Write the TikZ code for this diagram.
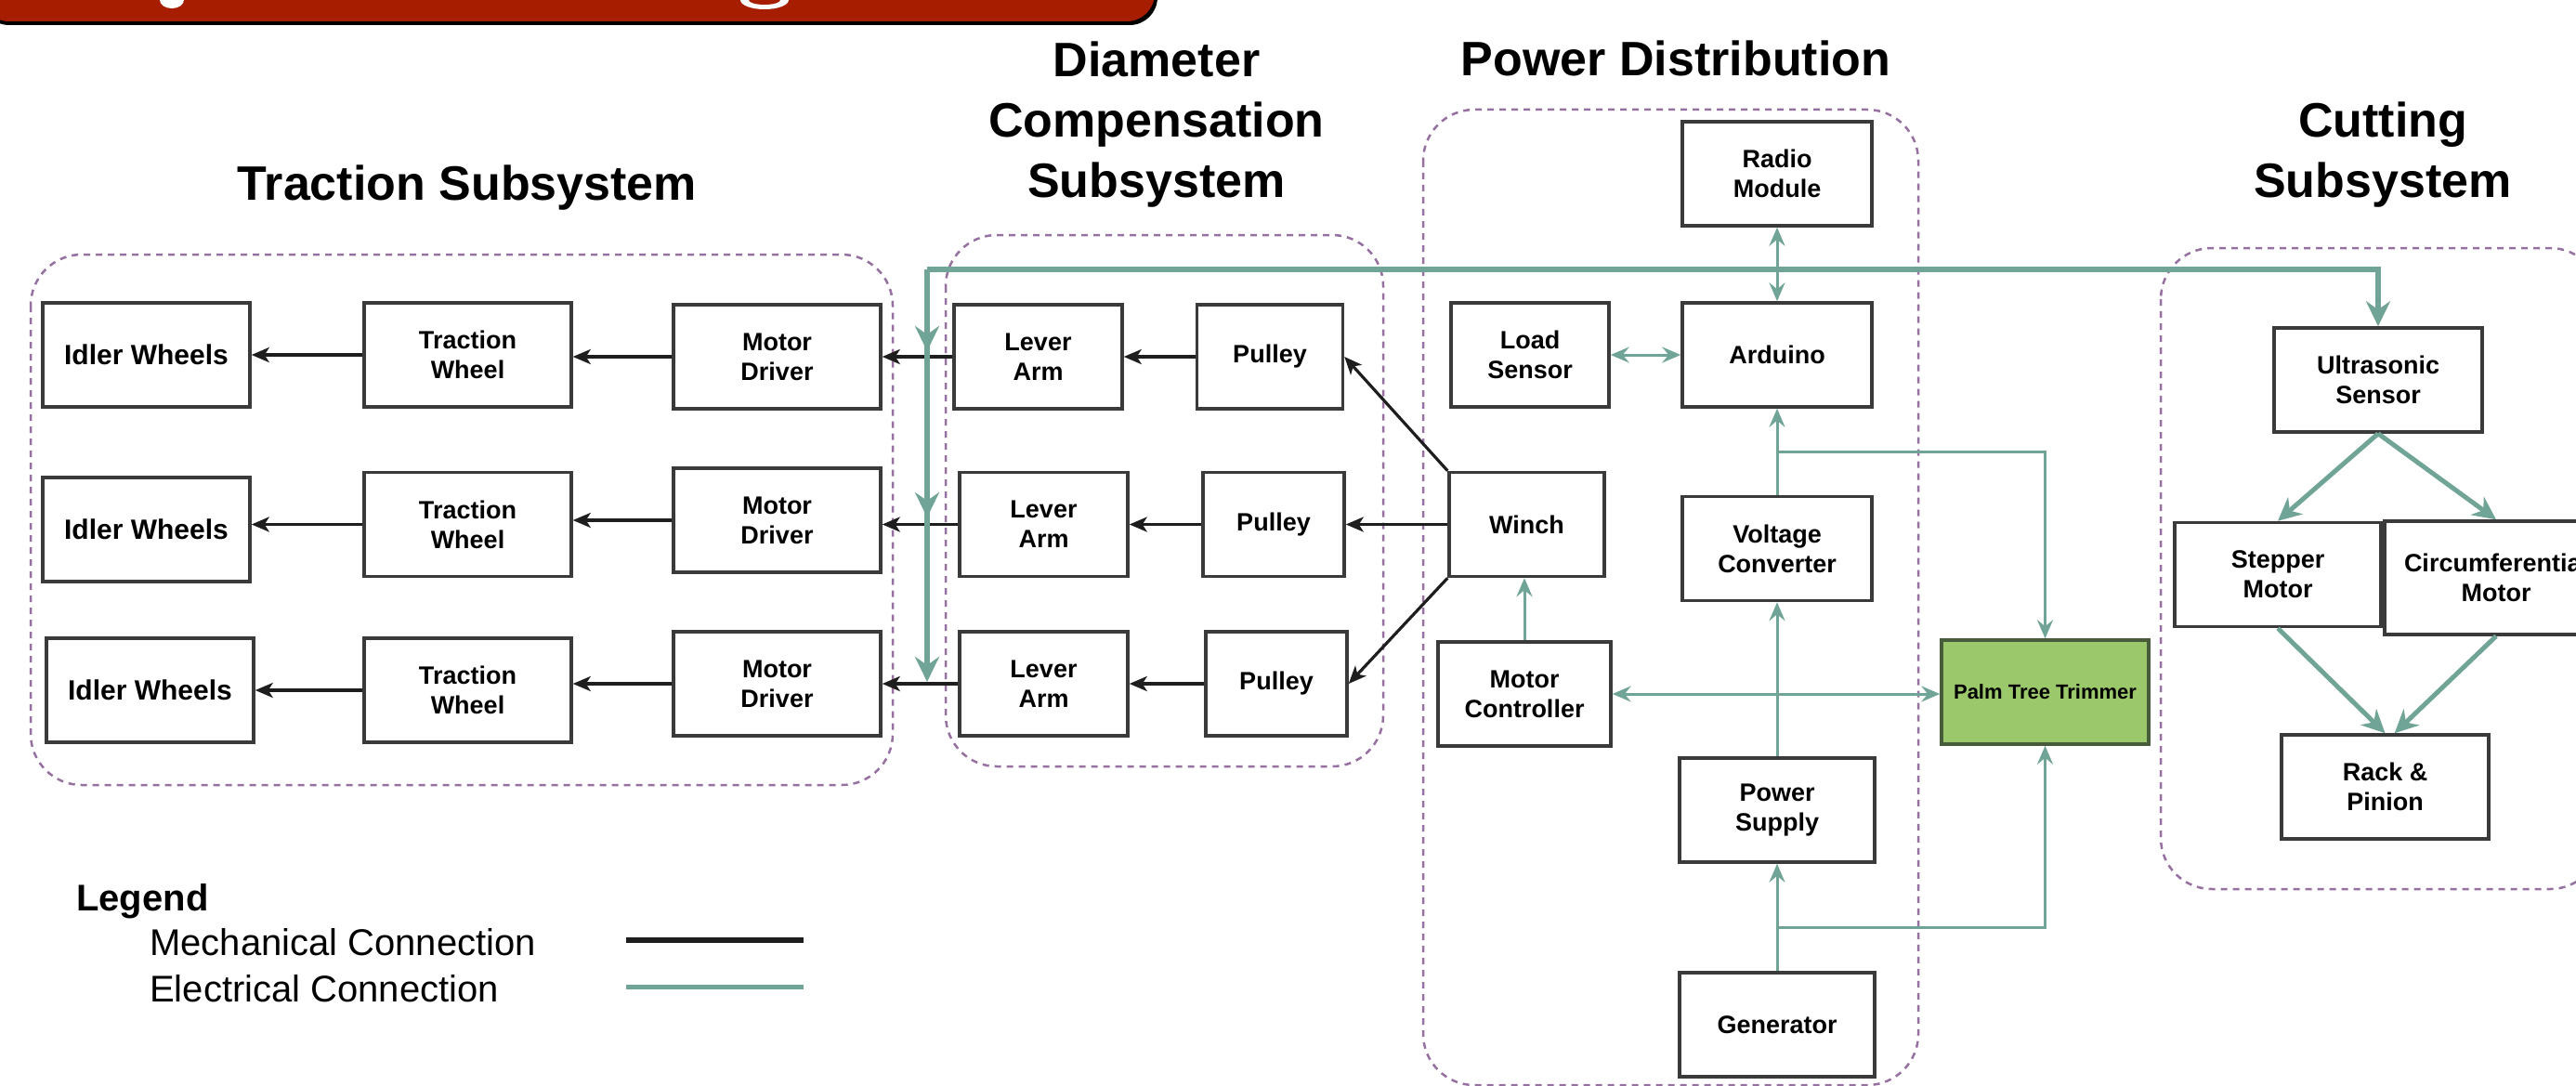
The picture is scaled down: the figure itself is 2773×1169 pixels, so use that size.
\documentclass[tikz,border=0pt]{standalone}
\usepackage{fontspec}
\setmainfont{Liberation Sans}
\usetikzlibrary{arrows.meta}
\definecolor{elecc}{RGB}{111,164,150}
\definecolor{boxc}{RGB}{58,58,58}
\definecolor{grpc}{RGB}{150,112,160}
\definecolor{palmc}{RGB}{155,200,106}
\definecolor{palmd}{RGB}{72,92,60}
\definecolor{redc}{RGB}{166,29,0}
\definecolor{mechc}{RGB}{30,30,30}
\begin{document}
\begin{tikzpicture}[x=1pt,y=-1pt,
  blk/.style={draw=boxc, line width=3.5pt, fill=white, inner sep=2pt, align=center, minimum height=112pt, font=\bfseries\fontsize{27}{32}\selectfont},
  grp/.style={draw=grpc, line width=2.5pt, dash pattern=on 7pt off 6pt, rounded corners=55pt},
  ttl/.style={font=\bfseries\fontsize{52}{65}\selectfont, align=center, inner sep=0pt},
  mech/.style={draw=mechc, line width=3.2pt, -{Stealth[length=19pt,width=16pt,inset=5pt]}},
  elec/.style={draw=elecc, line width=3pt, -{Stealth[length=20pt,width=17pt,inset=7pt]}},
  elecd/.style={draw=elecc, line width=3pt, {Stealth[length=20pt,width=17pt,inset=7pt]}-{Stealth[length=20pt,width=17pt,inset=7pt]}},
  bus/.style={draw=elecc, line width=6pt, -{Stealth[length=27pt,width=26pt,inset=9pt]}},
  cbus/.style={draw=elecc, line width=5pt, -{Stealth[length=25pt,width=24pt,inset=8pt]}},
  legtxt/.style={anchor=base west, inner sep=0pt, font=\fontsize{40}{46}\selectfont}
]
\path[use as bounding box] (0,0) rectangle (2773,1169);
\clip (0,0) rectangle (2773,1169);

% banner
\fill[black, rounded corners=30pt] (-20,-100) rectangle (1246,27);
\fill[redc, rounded corners=30pt] (-20,-100) rectangle (1243,23);
\fill[white] (185,0) ellipse (13 and 9);
\fill[white] (823,0) ellipse (26 and 10);
\fill[redc] (823,0) ellipse (17 and 5);

% groups
\draw[grp] (33,274) rectangle (961,845);
\draw[grp] (1018,253) rectangle (1489,825);
\draw[grp] (1532,118) rectangle (2065,1168);
\draw[grp] (2326,267) rectangle (2800,957);

% titles
\node[ttl, anchor=base] (tTr) at (503,215) {Traction Subsystem};
\node[ttl, anchor=north] (tDc) at (1245,45) {Diameter\\Compensation\\Subsystem};
\node[ttl, anchor=base] (tPd) at (1804,82) {Power Distribution};
\node[ttl, anchor=north] (tCu) at (2565,110) {Cutting\\Subsystem};

% traction
\node[blk, minimum width=223pt, font=\bfseries\fontsize{30}{34}\selectfont] (iw1) at (157.5,382) {Idler Wheels};
\node[blk, minimum width=223pt] (tw1) at (503.5,382) {Traction\\Wheel};
\node[blk, minimum width=223pt] (md1) at (836.5,384) {Motor\\Driver};
\node[blk, minimum width=223pt, font=\bfseries\fontsize{30}{34}\selectfont] (iw2) at (157.5,570) {Idler Wheels};
\node[blk, minimum width=223pt] (tw2) at (503.5,564.5) {Traction\\Wheel};
\node[blk, minimum width=223pt] (md2) at (836.5,560) {Motor\\Driver};
\node[blk, minimum width=223pt, font=\bfseries\fontsize{30}{34}\selectfont] (iw3) at (161.5,743) {Idler Wheels};
\node[blk, minimum width=223pt] (tw3) at (503.5,743) {Traction\\Wheel};
\node[blk, minimum width=223pt] (md3) at (836.5,736) {Motor\\Driver};

% diameter compensation
\node[blk, minimum width=181pt] (la1) at (1117.5,384) {Lever\\Arm};
\node[blk, minimum width=157pt] (p1) at (1367,384) {Pulley};
\node[blk, minimum width=181pt] (la2) at (1123.5,564.5) {Lever\\Arm};
\node[blk, minimum width=152pt] (p2) at (1371,564.5) {Pulley};
\node[blk, minimum width=181pt] (la3) at (1123.5,736) {Lever\\Arm};
\node[blk, minimum width=152pt] (p3) at (1374,736) {Pulley};

% power distribution
\node[blk, minimum width=204pt] (radio) at (1913,187) {Radio\\Module};
\node[blk, minimum width=170pt] (load) at (1647,382) {Load\\Sensor};
\node[blk, minimum width=204pt] (ard) at (1913,382) {Arduino};
\node[blk, minimum width=167pt] (winch) at (1643.5,564.5) {Winch};
\node[blk, minimum width=204pt] (vc) at (1913,590.5) {Voltage\\Converter};
\node[blk, minimum width=186pt] (mc) at (1641,747) {Motor\\Controller};
\node[blk, minimum width=210pt] (ps) at (1913,872) {Power\\Supply};
\node[blk, minimum width=210pt] (gen) at (1913,1103) {Generator};
\node[blk, minimum width=223pt, fill=palmc, draw=palmd, font=\bfseries\fontsize{22}{26}\selectfont] (palm) at (2201.5,745) {Palm Tree Trimmer};

% cutting
\node[blk, minimum width=224pt] (us) at (2560,409) {Ultrasonic\\Sensor};
\node[blk, minimum width=222pt] (step) at (2452,618.5) {Stepper\\Motor};
\node[blk, minimum width=240pt, minimum height=122pt] (circ) at (2687,622) {Circumferential\\Motor};
\node[blk, minimum width=223pt] (rack) at (2567.5,847) {Rack \&\\Pinion};

% mechanical connections
\draw[mech] (tw1.west) -- (tw1.west -| iw1.east);
\draw[mech] (md1.west) -- (md1.west -| tw1.east);
\draw[mech] (la1.west) -- (la1.west -| md1.east);
\draw[mech] (p1.west) -- (p1.west -| la1.east);
\draw[mech] (tw2.west) -- (tw2.west -| iw2.east);
\draw[mech] (md2.west) -- (md2.west -| tw2.east);
\draw[mech] (la2.west) -- (la2.west -| md2.east);
\draw[mech] (p2.west) -- (p2.west -| la2.east);
\draw[mech] (tw3.west) -- (tw3.west -| iw3.east);
\draw[mech] (md3.west) -- (md3.west -| tw3.east);
\draw[mech] (la3.west) -- (la3.west -| md3.east);
\draw[mech] (p3.west) -- (p3.west -| la3.east);
\draw[mech] (winch.north west) -- (p1.east);
\draw[mech] (winch.west) -- (p2.east);
\draw[mech] (winch.south west) -- (p3.east);

% electrical connections
\coordinate (busL) at (998,290);
\coordinate (t1) at (998,378);
\coordinate (t2) at (998,557);
\coordinate (t3) at (998,734);
\draw[elecd] (radio.south) -- (ard.north);
\draw[elecd] (load.east) -- (ard.west);
\draw[elec] (vc.north) -- (ard.south);
\coordinate (br1) at (1913,486);
\draw[elec] (br1) -| (palm.north);
\draw[elec] (mc.north) -- (mc.north |- winch.south);
\draw[elecd] (mc.east) -- (mc.east -| palm.west);
\draw[elec] (ps.north) -- (vc.south);
\draw[elec] (gen.north) -- (ps.south);
\coordinate (br2) at (1913,998);
\draw[elec] (br2) -| (palm.south);

\draw[bus] (busL) -| (us.north);
\draw[bus] (busL) -- (t3);
\draw[bus] (busL) -- (t2);
\draw[bus] (busL) -- (t1);

\draw[cbus] (us.south) -- (step.north);
\draw[cbus] (us.south) -- (circ.north);
\draw[cbus] (step.south) -- (rack.north);
\draw[cbus] (circ.south) -- (rack.80);

% legend
\node[legtxt, font=\bfseries\fontsize{40}{46}\selectfont] (leg) at (82,980) {Legend};
\node[legtxt] (legm) at (161,1028) {Mechanical Connection};
\node[legtxt] (lege) at (161,1078) {Electrical Connection};
\coordinate (lm1) at (674,1012);
\coordinate (lm2) at (865,1012);
\coordinate (le1) at (674,1062);
\coordinate (le2) at (865,1062);
\draw[mechc, line width=6pt] (lm1) -- (lm2);
\draw[elecc, line width=5pt] (le1) -- (le2);
\end{tikzpicture}
\end{document}
